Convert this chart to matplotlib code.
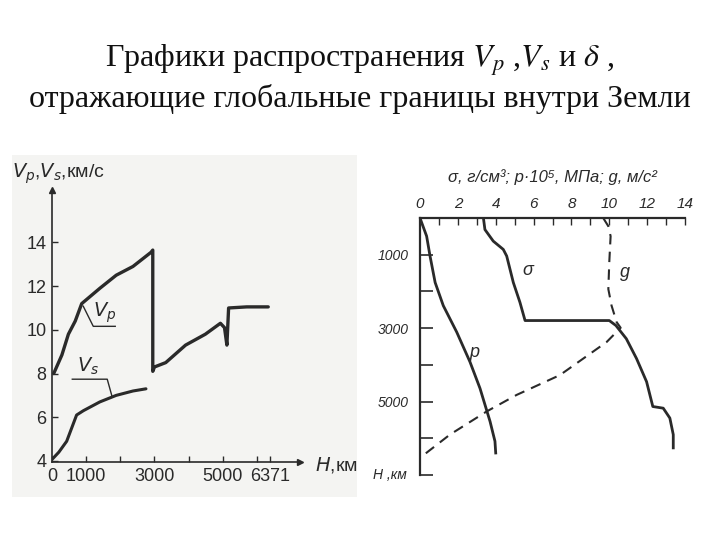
import matplotlib
matplotlib.use("Agg")
import matplotlib.pyplot as plt
from matplotlib.patches import Rectangle

# left chart: seismic velocities vs depth
vp_depth = [50, 290, 480, 680, 870, 1400, 1880, 2370, 2900, 2950, 2950, 3000, 3330, 3910, 4490, 4930, 5050, 5120, 5170, 5700, 6330]
vp_speed = [8.0, 8.85, 9.8, 10.4, 11.2, 11.9, 12.5, 12.9, 13.55, 13.65, 8.1, 8.3, 8.5, 9.3, 9.8, 10.3, 10.1, 9.3, 11.0, 11.05, 11.05]
vs_depth = [20, 200, 430, 720, 920, 1400, 1880, 2370, 2750]
vs_speed = [4.1, 4.4, 4.9, 6.1, 6.3, 6.7, 7.0, 7.2, 7.3]
left_yticks = [4, 6, 8, 10, 12, 14]
left_xticks = [0, 1000, 3000, 5000, 6371]

# right chart: pressure, density, gravity vs depth
p_value = [0, 0.35, 0.53, 0.8, 1.23, 1.94, 2.64, 3.17, 3.7, 3.96, 4.0]
p_depth = [0, 495, 1036, 1757, 2387, 3108, 3919, 4640, 5540, 6081, 6400]
rho_value = [3.35, 3.43, 3.87, 4.4, 4.58, 4.93, 5.28, 5.55, 10.0, 10.35, 10.9, 11.44, 11.97, 12.3, 12.85, 13.2, 13.38, 13.38]
rho_depth = [0, 315, 630, 856, 1036, 1757, 2297, 2793, 2793, 2928, 3288, 3829, 4459, 5135, 5180, 5450, 5900, 6261]
g_value = [9.68, 9.95, 10.07, 10.0, 9.95, 10.12, 10.39, 10.6, 9.86, 7.39, 5.1, 3.52, 1.58, 0]
g_depth = [0, 225, 495, 1200, 1937, 2387, 2838, 2990, 3378, 4279, 4820, 5270, 5900, 6532]
right_xticks = [0, 2, 4, 6, 8, 10, 12, 14]
right_yticks = [1000, 3000, 5000]

W, H = 720, 540
ink = "#2a2a2a"
sans = ["Liberation Sans", "DejaVu Sans"]

fig = plt.figure(figsize=(7.2, 5.4), dpi=100)


def px_axes(x0, y0, x1, y1):
    """Axes from pixel box (top-left origin)."""
    return fig.add_axes([x0 / W, 1 - y1 / H, (x1 - x0) / W, (y1 - y0) / H])


# title
fig.text(0.5, 1 - 67 / H, "Графики распространения $V_p$ ,$V_s$ и $\\delta$ ,",
         ha="center", va="baseline", fontsize=23, family="Liberation Serif", math_fontfamily="stix",
         color="#111111")
fig.text(0.5, 1 - 107 / H, "отражающие глобальные границы внутри Земли",
         ha="center", va="baseline", fontsize=23, family="Liberation Serif", color="#111111")

# scanned background of the left picture
fig.patches.append(Rectangle((12 / W, 1 - 497 / H), 345 / W, 342 / H, transform=fig.transFigure,
                             facecolor="#f4f4f2", edgecolor="none", zorder=-5))

# ---- left chart ----
ax = px_axes(52, 190, 300, 462)
ax.patch.set_alpha(0)
ax.plot(vp_depth, vp_speed, color=ink, lw=2.4, solid_capstyle="round")
ax.plot(vs_depth, vs_speed, color=ink, lw=2.2, solid_capstyle="round")
ax.set_xlim(0, 7260)
ax.set_ylim(3.95, 16.4)
for s in ("top", "right"):
    ax.spines[s].set_visible(False)
for s in ("left", "bottom"):
    ax.spines[s].set_color(ink)
    ax.spines[s].set_linewidth(1.2)
ax.set_yticks(left_yticks)
ax.set_xticks(range(0, 7000, 1000), minor=True)
ax.set_xticks(left_xticks)
ax.tick_params(direction="in", length=4, width=1, color=ink, labelsize=13, labelcolor=ink, pad=4)
ax.tick_params(which="minor", direction="in", length=4, width=1, color=ink)
for lab in ax.get_xticklabels() + ax.get_yticklabels():
    lab.set_family(sans)
ax.plot(1, 0, ">", color=ink, ms=5, transform=ax.transAxes, clip_on=False)
ax.plot(0, 1, "^", color=ink, ms=5, transform=ax.transAxes, clip_on=False)

ax.text(-0.16, 1.06, "$V_p$,$V_s$,км/с", transform=ax.transAxes, fontsize=14, color=ink,
        family=sans, math_fontfamily="dejavusans", va="center", ha="left")
ax.text(1.06, -0.01, "$H$,км", transform=ax.transAxes, fontsize=14, color=ink,
        family=sans, math_fontfamily="dejavusans", va="center", ha="left")

# leaders for curve names
ax.plot([915, 1208, 1851], [11.08, 10.16, 10.16], color=ink, lw=1)
ax.text(1530, 10.8, "$V_p$", fontsize=14, color=ink, math_fontfamily="dejavusans", ha="center", va="center")
ax.plot([594, 1617, 1763], [7.74, 7.74, 6.92], color=ink, lw=1)
ax.text(1070, 8.35, "$V_s$", fontsize=14, color=ink, math_fontfamily="dejavusans", ha="center", va="center")

# ---- right chart ----
bx = px_axes(420, 218, 685, 475)
bx.patch.set_alpha(0)
bx.plot(p_value, p_depth, color=ink, lw=2)
bx.plot(rho_value, rho_depth, color=ink, lw=2)
bx.plot(g_value, g_depth, color=ink, lw=1.5, ls=(0, (5, 3.5)))
bx.set_xlim(0, 14)
bx.set_ylim(7000, 0)
for s in ("bottom", "right"):
    bx.spines[s].set_visible(False)
for s in ("left", "top"):
    bx.spines[s].set_color(ink)
    bx.spines[s].set_linewidth(1.6)
bx.xaxis.tick_top()
bx.set_xticks(right_xticks)
bx.set_xticks(range(1, 14, 2), minor=True)
bx.set_yticks(right_yticks)
bx.set_yticks([2000, 4000, 6000, 7000], minor=True)
bx.tick_params(axis="x", which="both", direction="in", length=5, width=1, color=ink,
               labelsize=11, labelcolor=ink, pad=5)
bx.tick_params(axis="y", which="both", direction="in", length=9, width=1.2, color=ink,
               labelsize=10, labelcolor=ink, pad=8)
for lab in bx.get_xticklabels() + bx.get_yticklabels():
    lab.set_family(sans)
    lab.set_style("italic")

bx.text(0.5, 1.16, "σ, г/см³; p·10⁵, МПа; g, м/с²", transform=bx.transAxes, ha="center", va="center",
        fontsize=12, color=ink, family=sans, style="italic")
bx.text(-0.05, 7000, "H ,км", ha="right", va="center", fontsize=10, color=ink, family=sans,
        style="italic", transform=bx.get_yaxis_transform())
bx.text(5.72, 1441, "σ", fontsize=13, color=ink, family=sans, style="italic", ha="center", va="center")
bx.text(10.83, 1486, "g", fontsize=13, color=ink, family=sans, style="italic", ha="center", va="center")
bx.text(2.9, 3650, "p", fontsize=13, color=ink, family=sans, style="italic", ha="center", va="center")

fig.savefig("out.png", dpi=100)
